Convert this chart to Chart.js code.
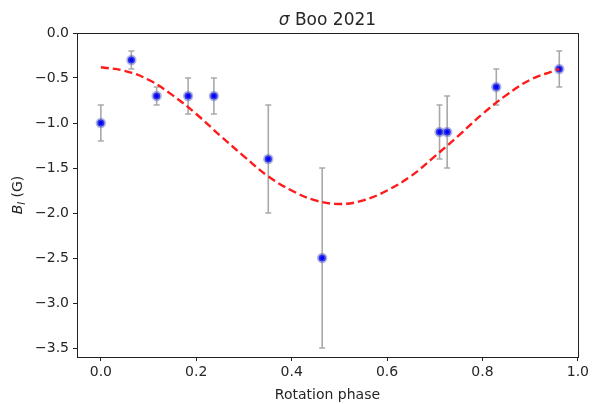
<!DOCTYPE html>
<html>
<head>
<meta charset="utf-8">
<script src="https://cdn.jsdelivr.net/npm/chart.js@4/dist/chart.umd.min.js"></script>
<style>
html,body{margin:0;padding:0;background:#fff;}
#wrap{width:592px;height:404px;position:relative;}
</style>
</head>
<body>
<div id="wrap"><canvas id="c" width="592" height="404"></canvas></div>
<script>
// Observations
const phase = [0.0, 0.064, 0.117, 0.183, 0.237, 0.351, 0.464, 0.710, 0.726, 0.829, 0.961];
const bl    = [-1.0, -0.3, -0.7, -0.7, -0.7, -1.4, -2.5, -1.1, -1.1, -0.6, -0.4];
const blErr = [0.2, 0.1, 0.1, 0.2, 0.2, 0.6, 1.0, 0.3, 0.4, 0.2, 0.2];
// Fitted curve
const fitPhase = [0.0, 0.05, 0.10, 0.15, 0.20, 0.25, 0.30, 0.35, 0.40, 0.45, 0.50, 0.55, 0.60, 0.65, 0.70, 0.75, 0.80, 0.85, 0.90, 0.95, 0.961];
const fitBl    = [-0.38, -0.42, -0.52, -0.69, -0.90, -1.14, -1.37, -1.59, -1.75, -1.86, -1.90, -1.86, -1.75, -1.59, -1.37, -1.14, -0.90, -0.69, -0.52, -0.42, -0.40];
// Axis ticks
const xTicks = [0.0, 0.2, 0.4, 0.6, 0.8, 1.0];
const yTicks = [0.0, -0.5, -1.0, -1.5, -2.0, -2.5, -3.0, -3.5];

const FONT = "'DejaVu Sans', sans-serif";
const TXT = '#262626';

const pts = phase.map((x, i) => ({x: x, y: bl[i]}));
const fit = fitPhase.map((x, i) => ({x: x, y: fitBl[i]}));

const errorBars = {
  id: 'errorBars',
  beforeDatasetsDraw(chart) {
    const {ctx, scales: {x, y}} = chart;
    ctx.save();
    ctx.strokeStyle = 'rgba(140,140,140,0.75)';
    ctx.lineWidth = 1.6;
    phase.forEach((p, i) => {
      const px = x.getPixelForValue(p);
      const y1 = y.getPixelForValue(bl[i] + blErr[i]);
      const y2 = y.getPixelForValue(bl[i] - blErr[i]);
      ctx.beginPath();
      ctx.moveTo(px, y1); ctx.lineTo(px, y2);
      ctx.moveTo(px - 3, y1); ctx.lineTo(px + 3, y1);
      ctx.moveTo(px - 3, y2); ctx.lineTo(px + 3, y2);
      ctx.stroke();
    });
    ctx.restore();
  }
};

const frame = {
  id: 'frame',
  afterDraw(chart) {
    const {ctx, chartArea: a} = chart;
    ctx.save();
    ctx.strokeStyle = '#222';
    ctx.lineWidth = 1;
    ctx.strokeRect(Math.round(a.left) + 0.5, Math.round(a.top) + 0.5, Math.round(a.right - a.left), Math.round(a.bottom - a.top));
    // title with italic sigma
    ctx.fillStyle = TXT;
    ctx.textBaseline = 'alphabetic';
    ctx.textAlign = 'left';
    const f1 = "italic 17px " + FONT, f2 = "17px " + FONT;
    ctx.font = f1; const w1 = ctx.measureText('σ').width;
    ctx.font = f2; const w2 = ctx.measureText(' Boo 2021').width;
    const cx = (a.left + a.right) / 2;
    let sx = cx - (w1 + w2) / 2;
    ctx.font = f1; ctx.fillText('σ', sx, 25);
    ctx.font = f2; ctx.fillText(' Boo 2021', sx + w1, 25);
    // y label: B_l (G)
    ctx.translate(22, (a.top + a.bottom) / 2);
    ctx.rotate(-Math.PI / 2);
    const fb = "italic 14px " + FONT, fs = "italic 10px " + FONT, fn = "14px " + FONT;
    ctx.font = fb; const wb = ctx.measureText('B').width;
    ctx.font = fs; const wl = ctx.measureText('l').width;
    ctx.font = fn; const wg = ctx.measureText(' (G)').width;
    let lx = -(wb + wl + wg) / 2;
    ctx.font = fb; ctx.fillText('B', lx, 0);
    ctx.font = fs; ctx.fillText('l', lx + wb, 3);
    ctx.font = fn; ctx.fillText(' (G)', lx + wb + wl, 0);
    ctx.restore();
  }
};

const fmt = v => (v < 0 ? '\u2212' : '') + Math.abs(v).toFixed(1);

new Chart(document.getElementById('c'), {
  type: 'scatter',
  data: {
    datasets: [
      {
        type: 'line', data: fit, borderColor: '#ff1a1a', borderWidth: 2.4,
        borderDash: [8, 4], pointRadius: 0, fill: false, tension: 0.4, order: 0
      },
      {
        data: pts, pointRadius: 3.6, pointBackgroundColor: '#0000ff',
        pointBorderColor: 'rgba(100,110,200,0.5)', pointBorderWidth: 3.2, order: 1
      }
    ]
  },
  options: {
    responsive: false,
    animation: false,
    layout: {padding: {left: 0, right: 13, top: 33, bottom: 0}},
    plugins: {legend: {display: false}, tooltip: {enabled: false}, title: {display: false}},
    scales: {
      x: {
        type: 'linear', min: -0.05, max: 1.0,
        afterBuildTicks: s => { s.ticks = xTicks.map(v => ({value: v})); },
        afterFit: s => { s.height = 47; },
        grid: {display: true, drawOnChartArea: false, drawTicks: true, tickLength: 4, color: '#222'},
        border: {display: true, color: '#222', width: 1},
        ticks: {color: TXT, font: {family: FONT, size: 14}, padding: 3, maxRotation: 0, callback: v => fmt(v)},
        title: {display: true, text: 'Rotation phase', color: TXT, font: {family: FONT, size: 14}, padding: {top: 1, bottom: 0}}
      },
      y: {
        type: 'linear', min: -3.6, max: 0.0,
        afterBuildTicks: s => { s.ticks = yTicks.map(v => ({value: v})); },
        afterFit: s => { s.width = 77; },
        grid: {display: true, drawOnChartArea: false, drawTicks: true, tickLength: 4, color: '#222'},
        border: {display: true, color: '#222', width: 1},
        ticks: {color: TXT, font: {family: FONT, size: 14}, padding: 4, callback: v => fmt(v)}
      }
    }
  },
  plugins: [errorBars, frame]
});
</script>
</body>
</html>
